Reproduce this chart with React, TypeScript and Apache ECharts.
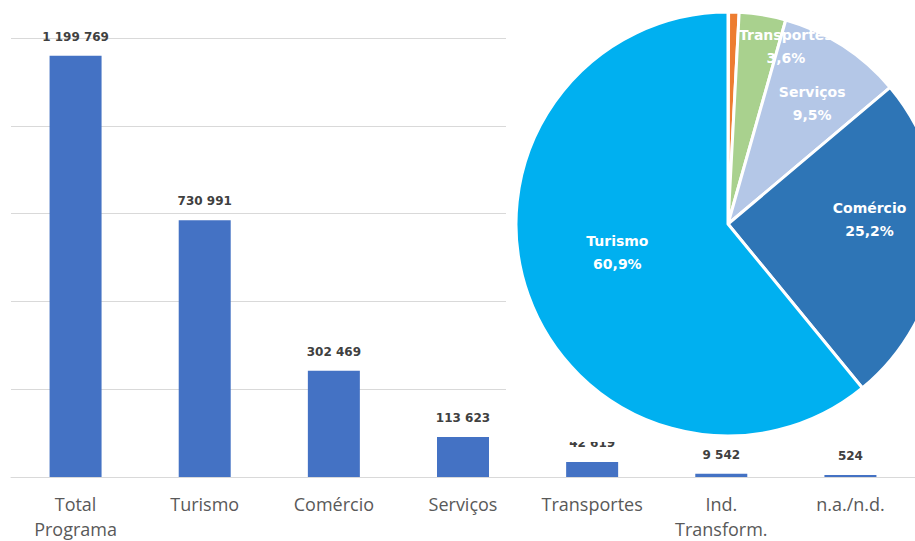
import React, { useEffect, useRef } from "react";
import * as echarts from "echarts";

const categories = ["Total\nPrograma", "Turismo", "Comércio", "Serviços", "Transportes", "Ind.\nTransform.", "n.a./n.d."];
const values = [1199769, 730991, 302469, 113623, 42619, 9542, 524];

// pie slices, clockwise from 12 o'clock
const pieNames = ["n.a./n.d.", "Ind. Transform.", "Transportes", "Serviços", "Comércio", "Turismo"];
const pieValues = [524, 9542, 42619, 113623, 302469, 730991];
const pieColors = ["#A5A5A5", "#ED7D31", "#A9D18E", "#B4C7E7", "#2E75B6", "#00B0F0"];
const pieLabelShown = [false, false, true, true, true, true];
// label nudges (Excel best-fit placement)
const pieLabelDx = [0, 0, 40, 25, 33, -8];
const pieLabelDy = [0, 0, -70, -29, -15, -8];

const fmt = (v: number) => String(v).replace(/\B(?=(\d{3})+(?!\d))/g, " ");

export default function App() {
  const ref = useRef<HTMLDivElement>(null);
  useEffect(() => {
    document.body.style.margin = "0";
    const chart = echarts.init(ref.current!, null, { renderer: "svg" });
    const pieTotal = pieValues.reduce((a, b) => a + b, 0);
    chart.setOption({
      animation: false,
      backgroundColor: "#ffffff",
      grid: { left: 11, right: -12, top: 38, bottom: 62, containLabel: false },
      graphic: {
        elements: [
          {
            type: "rect",
            z: 4,
            shape: { x: 506, y: 0, width: 409, height: 442 },
            style: { fill: "#ffffff" },
            silent: true,
          },
        ],
      },
      xAxis: {
        type: "category",
        data: categories,
        axisLine: { lineStyle: { color: "#d9d9d9", width: 1 } },
        axisTick: { show: false },
        axisLabel: {
          color: "#595959",
          fontFamily: "Open Sans",
          fontSize: 18,
          lineHeight: 25,
          margin: 14,
          interval: 0,
        },
      },
      yAxis: {
        type: "value",
        min: 0,
        max: 1250000,
        interval: 250000,
        axisLabel: { show: false },
        axisLine: { show: false },
        axisTick: { show: false },
        splitLine: { lineStyle: { color: "#d9d9d9", width: 1 } },
      },
      series: [
        {
          type: "bar",
          data: values,
          barWidth: 52,
          barMinHeight: 2,
          z: 2,
          itemStyle: { color: "#4472C4" },
          label: {
            show: true,
            position: "top",
            distance: 13,
            color: "#404040",
            fontFamily: "DejaVu Sans",
            fontWeight: "bold",
            fontSize: 12,
            formatter: (p: any) => fmt(p.value),
          },
        },
        {
          type: "pie",
          z: 5,
          center: [728, 224],
          radius: [0, 212],
          startAngle: 90,
          clockwise: true,
          avoidLabelOverlap: false,
          itemStyle: { borderColor: "#ffffff", borderWidth: 3 },
          labelLine: { show: false },
          data: pieNames.map((n, i) => ({
            name: n,
            value: pieValues[i],
            itemStyle: { color: pieColors[i] },
            label: { show: pieLabelShown[i] },
          })),
          label: {
            position: "inside",
            color: "#ffffff",
            fontFamily: "DejaVu Sans",
            fontWeight: "bold",
            fontSize: 14,
            lineHeight: 23,
            align: "center",
            formatter: (p: any) =>
              p.name + "\n" + ((p.value / pieTotal) * 100).toFixed(1).replace(".", ",") + "%",
          },
          labelLayout: (params: any) => ({
            dx: pieLabelDx[params.dataIndex],
            dy: pieLabelDy[params.dataIndex],
          }),
        },
      ],
    });
    return () => chart.dispose();
  }, []);
  return <div ref={ref} style={{ width: 915, height: 541 }} />;
}
